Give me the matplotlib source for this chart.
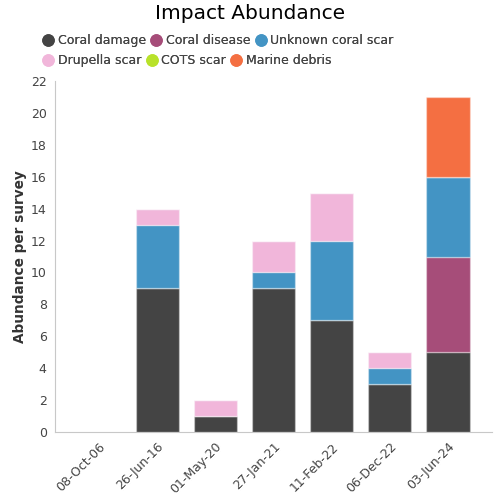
import numpy as np
import matplotlib; matplotlib.use("Agg"); import matplotlib.pyplot as plt
from matplotlib.lines import Line2D

dates = ["08-Oct-06", "26-Jun-16", "01-May-20", "27-Jan-21", "11-Feb-22", "06-Dec-22", "03-Jun-24"]
coral_damage = [0, 9, 1, 9, 7, 3, 5]
coral_disease = [0, 0, 0, 0, 0, 0, 6]
unknown_scar = [0, 4, 0, 1, 5, 1, 5]
drupella_scar = [0, 1, 1, 2, 3, 1, 0]
cots_scar = [0, 0, 0, 0, 0, 0, 0]
marine_debris = [0, 0, 0, 0, 0, 0, 5]

series = [("Coral damage", coral_damage, "#444444"),
          ("Coral disease", coral_disease, "#a64d79"),
          ("Unknown coral scar", unknown_scar, "#4394c4"),
          ("Drupella scar", drupella_scar, "#f1b6da"),
          ("COTS scar", cots_scar, "#b8e22a"),
          ("Marine debris", marine_debris, "#f46f42")]

txt = "#444444"
fig = plt.figure(figsize=(5, 5), dpi=100)
ax = fig.add_axes([0.11, 0.136, 0.874, 0.702])
x = np.arange(len(dates)); bottom = np.zeros(len(dates))
for name, vals, col in series:
    v = np.array(vals, dtype=float)
    ax.bar(x, v, 0.74, bottom=bottom, color=col, edgecolor=(1, 1, 1, 0.35), linewidth=1)
    bottom += v

ax.set_xlim(-0.756, 6.756); ax.set_ylim(0, 22)
ax.set_yticks(range(0, 23, 2))
ax.set_xticks(x); ax.set_xticklabels(dates, rotation=45, ha="right", rotation_mode="anchor")
ax.tick_params(length=0, labelsize=9, colors=txt, pad=6)
for s in ["top", "right"]: ax.spines[s].set_visible(False)
for s in ["left", "bottom"]: ax.spines[s].set_color("#c8c8c8")
ax.set_ylabel("Abundance per survey", fontsize=9.8, color="#333333", fontweight="bold")
ax.yaxis.set_label_coords(-0.063, 0.5)
fig.text(0.5, 0.973, "Impact Abundance", ha="center", va="center", fontsize=14.5, color="black")

# legend: two flowing rows of three
for row, y in ((series[:3], 0.919), (series[3:], 0.879)):
    handles = [Line2D([], [], marker="o", ls="", ms=8, color=c) for _, _, c in row]
    leg = fig.legend(handles, [n for n, _, _ in row], ncol=3, loc="center left",
                     bbox_to_anchor=(0.084, y), frameon=False, fontsize=9, handletextpad=0.25,
                     columnspacing=0.35, borderaxespad=0, borderpad=0, handlelength=1.0)
    for t in leg.get_texts(): t.set_color(txt)
    fig.add_artist(leg)
fig.savefig("out.png", dpi=100)
